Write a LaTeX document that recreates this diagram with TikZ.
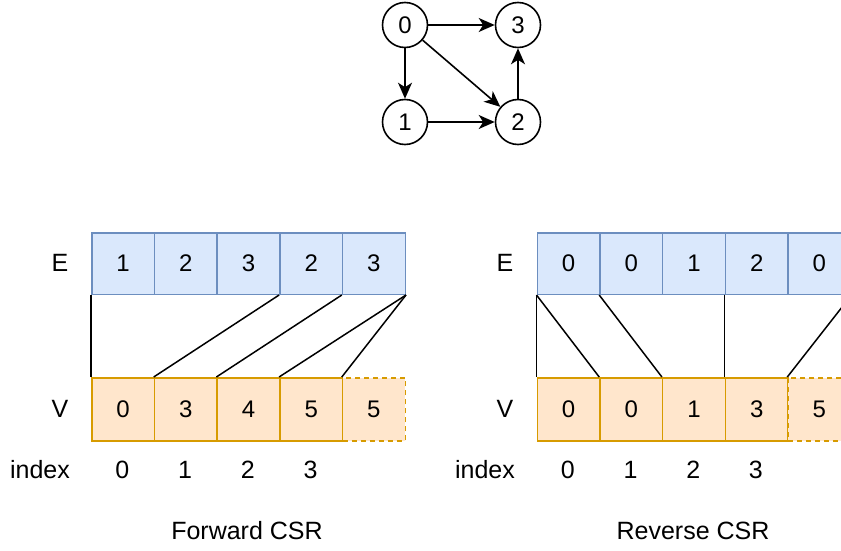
\documentclass[tikz,border=0pt]{standalone}
\usepackage{fontspec}
\setmainfont{Liberation Sans}
\usetikzlibrary{arrows.meta}
\definecolor{eFill}{HTML}{DAE8FC}
\definecolor{eLine}{HTML}{6C8EBF}
\definecolor{vFill}{HTML}{FFE6CC}
\definecolor{vLine}{HTML}{D79B00}
\tikzset{
  vert/.style={circle, draw=black, line width=1.6pt, minimum size=45pt, inner sep=0pt, font=\fontsize{24}{28}\selectfont},
  garrow/.style={line width=1.6pt, -{Stealth[length=16pt, width=14pt, inset=4.5pt]}},
  ecell/.style={draw=eLine, fill=eFill, line width=1.5pt, minimum width=62.7pt, minimum height=61.5pt, inner sep=0pt, anchor=north west, font=\fontsize{24}{28}\selectfont},
  vcell/.style={draw=vLine, fill=vFill, line width=1.5pt, minimum width=62.7pt, minimum height=63pt, inner sep=0pt, anchor=north west, font=\fontsize{24}{28}\selectfont},
  vdash/.style={vcell, dash pattern=on 5pt off 4pt},
  lbl/.style={font=\fontsize{25}{29}\selectfont, inner sep=0pt},
  conn/.style={line width=1.5pt, draw=black},
}
\begin{document}
\begin{tikzpicture}[x=1pt, y=-1pt]
\useasboundingbox (0,0) rectangle (841,551);
% graph
\node[vert] (g0) at (405,25) {0};
\node[vert] (g3) at (518,25) {3};
\node[vert] (g1) at (405,122) {1};
\node[vert] (g2) at (518,122) {2};
\draw[garrow] (g0) -- (g3);
\draw[garrow] (g0) -- (g1);
\draw[garrow] (g0) -- (g2);
\draw[garrow] (g1) -- (g2);
\draw[garrow] (g2) -- (g3);

% forward CSR
\foreach \i/\t in {1/1,2/2,3/3,4/2,5/3} {
  \node[ecell] (fe\i) at ({91+62.7*(\i-1)},232) {\t};
}
\foreach \i/\t in {1/0,2/3,3/4,4/5} {
  \node[vcell] (fv\i) at ({91+62.7*(\i-1)},377) {\t};
}
\node[vdash] (fv5) at ({91+62.7*4},377) {5};
\draw[conn] (fe1.south west) -- (fv1.north west);
\draw[conn] (fe4.south west) -- (fv2.north west);
\draw[conn] (fe5.south west) -- (fv3.north west);
\draw[conn] (fe5.south east) -- (fv4.north west);
\draw[conn] (fe5.south east) -- (fv5.north west);
\node[lbl] (fE) at (60,263) {E};
\node[lbl] (fV) at (60,409) {V};
\node[lbl] (fidx) at (40,470) {index};
\foreach \i in {0,1,2,3} {
  \node[lbl] (fi\i) at ({122.4+62.7*\i},470) {\i};
}
\node[lbl] (fcap) at (247,531) {Forward CSR};

% reverse CSR
\foreach \i/\t in {1/0,2/0,3/1,4/2,5/0} {
  \node[ecell] (re\i) at ({536.5+62.7*(\i-1)},232) {\t};
}
\foreach \i/\t in {1/0,2/0,3/1,4/3} {
  \node[vcell] (rv\i) at ({536.5+62.7*(\i-1)},377) {\t};
}
\node[vdash] (rv5) at ({536.5+62.7*4},377) {5};
\draw[conn] (re1.south west) -- (rv1.north west);
\draw[conn] (re1.south west) -- (rv2.north west);
\draw[conn] (re2.south west) -- (rv3.north west);
\draw[conn] (re4.south west) -- (rv4.north west);
\draw[conn] (re5.south east) -- (rv5.north west);
\node[lbl] (rE) at (505,263) {E};
\node[lbl] (rV) at (505,409) {V};
\node[lbl] (ridx) at (485,470) {index};
\foreach \i in {0,1,2,3} {
  \node[lbl] (ri\i) at ({567.8+62.7*\i},470) {\i};
}
\node[lbl] (rcap) at (693,531) {Reverse CSR};
\end{tikzpicture}
\end{document}
